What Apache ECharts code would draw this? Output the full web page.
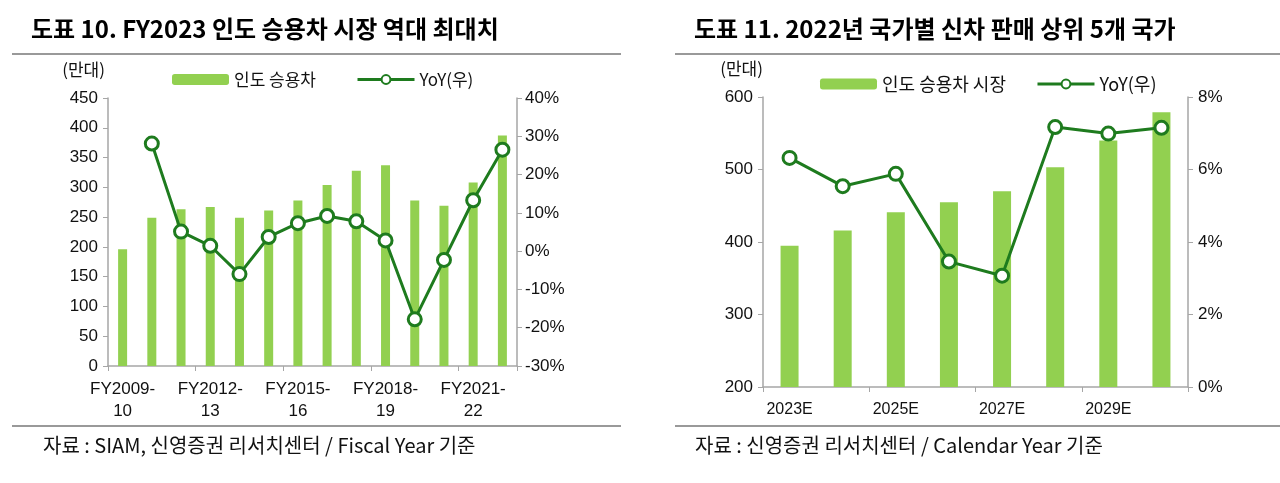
<!DOCTYPE html>
<html><head><meta charset="utf-8">
<script src="https://cdn.jsdelivr.net/npm/echarts@6/dist/echarts.min.js"></script>
<style>html,body{margin:0;padding:0;background:#fff}#c{width:1280px;height:483px}</style>
</head><body><div id="c"></div>
<script>
// Left chart data
const leftCategories = ['FY2009-10','FY2010-11','FY2011-12','FY2012-13','FY2013-14','FY2014-15','FY2015-16','FY2016-17','FY2017-18','FY2018-19','FY2019-20','FY2020-21','FY2021-22','FY2022-23'];
const leftSales = [196, 249, 263, 267, 249, 261, 278, 304, 328, 337, 278, 269, 308, 387];
const leftYoY = [null, 28.1, 5.1, 1.4, -6.0, 3.7, 7.3, 9.2, 7.8, 2.8, -17.8, -2.3, 13.3, 26.5];
// Right chart data
const rightCategories = ['2023E','2024E','2025E','2026E','2027E','2028E','2029E','2030E'];
const rightSales = [395, 416, 441, 455, 470, 503, 540, 579];
const rightYoY = [6.32, 5.54, 5.88, 3.46, 3.07, 7.17, 6.99, 7.15];

const BAR = '#92D050', LINE = '#1E7B1E', AX = '#A6A6A6', TXT = '#111';
const NUMFONT = '"Liberation Sans", Arial, sans-serif';
const KFONT = '"Noto Sans CJK KR", "Liberation Sans", sans-serif';

function catLabel(v){ const i = v.indexOf('-'); return i>0 ? v.slice(0,i+1)+'\n'+v.slice(i+1) : v; }

const axisLbl = {color: TXT, fontSize: 17, fontFamily: NUMFONT};
const yBase = {
  axisLine:{show:true, lineStyle:{color:AX, width:1.5}},
  axisTick:{show:true, length:5, lineStyle:{color:AX}},
  splitLine:{show:false}
};
const legendCommon = {itemWidth:57, itemHeight:11, selectedMode:false,
  textStyle:{fontSize:17, color:TXT, fontFamily:KFONT},
  lineStyle:{width:3, color:LINE}};
const chart = echarts.init(document.getElementById('c'));
chart.setOption({
  animation:false,
  textStyle:{fontFamily: KFONT},
  title:[
    {text:'도표 10. FY2023 인도 승용차 시장 역대 최대치', left:26, top:12, textStyle:{fontSize:24, fontWeight:'bold', color:'#000', fontFamily:KFONT}},
    {text:'도표 11. 2022년 국가별 신차 판매 상위 5개 국가', left:689, top:12, textStyle:{fontSize:24, fontWeight:'bold', color:'#000', fontFamily:KFONT}},
    {text:'자료 : SIAM, 신영증권 리서치센터 / Fiscal Year 기준', left:38, top:430, textStyle:{fontSize:20, fontWeight:'normal', color:'#111', fontFamily:KFONT}},
    {text:'자료 : 신영증권 리서치센터 / Calendar Year 기준', left:690, top:430, textStyle:{fontSize:20, fontWeight:'normal', color:'#111', fontFamily:KFONT}}
  ],
  graphic:[
    {type:'line', shape:{x1:12,y1:54,x2:621,y2:54}, style:{stroke:'#999', lineWidth:2}},
    {type:'line', shape:{x1:675,y1:54,x2:1280,y2:54}, style:{stroke:'#999', lineWidth:2}},
    {type:'line', shape:{x1:12,y1:426,x2:621,y2:426}, style:{stroke:'#999', lineWidth:2}},
    {type:'line', shape:{x1:675,y1:426,x2:1280,y2:426}, style:{stroke:'#999', lineWidth:2}}
  ],
  legend:[
    Object.assign({data:['인도 승용차','YoY(우)'], left:167, top:66, itemGap:40}, legendCommon),
    Object.assign({data:['인도 승용차 시장','YoY(우)'], left:815, top:70, itemGap:30}, legendCommon,
      {textStyle:{fontSize:18, color:TXT, fontFamily:KFONT}})
  ],
  grid:[
    {left:108, top:98, width:409, height:268},
    {left:763, top:97, width:425, height:290}
  ],
  xAxis:[
    {type:'category', gridIndex:0, data:leftCategories,
     axisLine:{lineStyle:{color:AX, width:1.5}}, axisTick:{show:true, length:5, lineStyle:{color:AX}},
     axisLabel:Object.assign({interval:2, formatter:catLabel, margin:12, lineHeight:22}, axisLbl)},
    {type:'category', gridIndex:1, data:rightCategories,
     axisLine:{lineStyle:{color:AX, width:1.5}}, axisTick:{show:true, length:5, lineStyle:{color:AX}},
     axisLabel:Object.assign({interval:1, margin:15}, axisLbl, {fontSize:16})}
  ],
  yAxis:[
    Object.assign({type:'value', gridIndex:0, min:0, max:450, interval:50, name:'(만대)',
      nameLocation:'end', nameGap:20, nameTextStyle:{fontSize:17, color:TXT, fontFamily:KFONT, align:'right', padding:[0,3,0,0]},
      axisLabel:Object.assign({margin:10}, axisLbl)}, yBase),
    Object.assign({type:'value', gridIndex:0, min:-30, max:40, interval:10, position:'right',
      axisLabel:Object.assign({margin:8, formatter:'{value}%'}, axisLbl)}, yBase),
    Object.assign({type:'value', gridIndex:1, min:200, max:600, interval:100, name:'(만대)',
      nameLocation:'end', nameGap:20, nameTextStyle:{fontSize:17, color:TXT, fontFamily:KFONT, align:'right'},
      axisLabel:Object.assign({margin:10}, axisLbl)}, yBase),
    Object.assign({type:'value', gridIndex:1, min:0, max:8, interval:2, position:'right',
      axisLabel:Object.assign({margin:10, formatter:'{value}%'}, axisLbl)}, yBase)
  ],
  series:[
    {name:'인도 승용차', type:'bar', xAxisIndex:0, yAxisIndex:0, data:leftSales, barWidth:9, itemStyle:{color:BAR}},
    {name:'YoY(우)', type:'line', xAxisIndex:0, yAxisIndex:1, data:leftYoY, symbol:'circle', symbolSize:13,
     lineStyle:{color:LINE, width:3}, itemStyle:{color:'#fff', borderColor:LINE, borderWidth:3}, z:5},
    {name:'인도 승용차 시장', type:'bar', xAxisIndex:1, yAxisIndex:2, data:rightSales, barWidth:18, itemStyle:{color:BAR}},
    {name:'YoY(우)', type:'line', xAxisIndex:1, yAxisIndex:3, data:rightYoY, symbol:'circle', symbolSize:13,
     lineStyle:{color:LINE, width:3}, itemStyle:{color:'#fff', borderColor:LINE, borderWidth:3}, z:5}
  ]
});
</script></body></html>
